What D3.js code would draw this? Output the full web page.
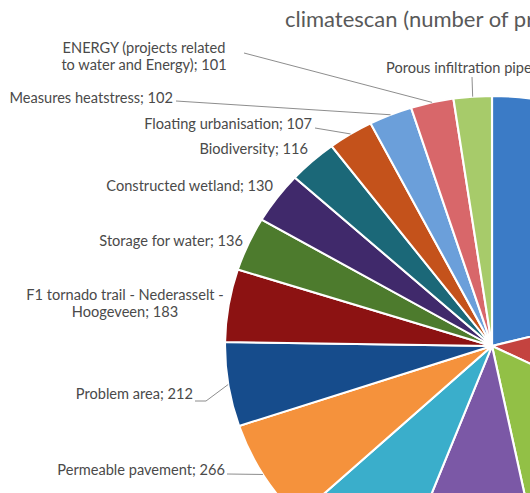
<!DOCTYPE html>
<html><head><meta charset="utf-8">
<script src="https://cdn.jsdelivr.net/npm/d3@7"></script>
<style>
html,body{margin:0;padding:0;background:#fff;overflow:hidden;}
svg{display:block;}
</style></head>
<body>
<svg id="chart" width="530" height="493"></svg>
<script>
// ---- data (clockwise from 12 o'clock) ----
const categories = [
  "Green roof", "Rain garden", "Swale", "Green facade", "Urban agriculture",
  "Permeable pavement", "Problem area", "F1 tornado trail - Nederasselt - Hoogeveen",
  "Storage for water", "Constructed wetland", "Biodiversity", "Floating urbanisation",
  "Measures heatstress", "ENERGY (projects related to water and Energy)", "Porous infiltration pipe"
];
const values = [818, 443, 563, 353, 280, 266, 212, 183, 136, 130, 116, 107, 102, 101, 90];
const colors = [
  "#3b7bc6", "#c4433f", "#92c046", "#7b58a6", "#3aaecb",
  "#f5923c", "#164c8c", "#8c1212", "#4d7b2d", "#40296b",
  "#1b6878", "#c4521b", "#6b9fda", "#d8676a", "#a7cb6a"
];
const title = "climatescan (number of projects)";

// ---- label layout (annotation placement only) ----
const labelLayout = [
  {name: categories[13], lines: ["ENERGY (projects related", "to water and Energy); " + values[13]], x: 144, y: 53, anchor: "middle", leader: [[244, 53]]},
  {name: categories[12], lines: ["Measures heatstress; " + values[12]], x: 173, y: 103, anchor: "end", leader: [[176, 101]]},
  {name: categories[11], lines: ["Floating urbanisation; " + values[11]], x: 312, y: 129, anchor: "end", leader: [[315, 128]]},
  {name: categories[10], lines: ["Biodiversity; " + values[10]], x: 308, y: 154, anchor: "end", leader: null},
  {name: categories[9], lines: ["Constructed wetland; " + values[9]], x: 273, y: 191, anchor: "end", leader: null},
  {name: categories[8], lines: ["Storage for water; " + values[8]], x: 243, y: 246, anchor: "end", leader: null},
  {name: categories[7], lines: ["F1 tornado trail - Nederasselt -", "Hoogeveen; " + values[7]], x: 125, y: 300, anchor: "middle", leader: null},
  {name: categories[6], lines: ["Problem area; " + values[6]], x: 193, y: 399, anchor: "end", leader: [[195, 401], [206, 401]]},
  {name: categories[5], lines: ["Permeable pavement; " + values[5]], x: 225, y: 475, anchor: "end", leader: [[227, 474]]},
  {name: categories[14], lines: ["Porous infiltration pipe; " + values[14]], x: 386, y: 73, anchor: "start", leader: [[472, 77]]}
];

const cx = 492, cy = 346, R = 250, sx = 1.068;
const svg = d3.select("#chart");
const fontFam = "Lato, 'Open Sans', sans-serif";

svg.append("text").attr("x", 285).attr("y", 27)
  .attr("font-family", fontFam).attr("font-size", 22).attr("fill", "#595959")
  .text(title);

const data = categories.map((c, i) => ({name: c, value: values[i], color: colors[i]}));
const pie = d3.pie().sort(null).value(d => d.value);
const arcs = pie(data);
const arc = d3.arc().innerRadius(0).outerRadius(R);

const g = svg.append("g").attr("transform", `translate(${cx},${cy}) scale(${sx},1)`);
g.selectAll("path").data(arcs).join("path")
  .attr("d", arc)
  .attr("fill", d => d.data.color)
  .attr("stroke", "#fff").attr("stroke-width", 2).attr("stroke-linejoin", "round");

// leader lines & labels
const byName = new Map(arcs.map(a => [a.data.name, a]));
const edgePoint = a => {
  const m = (a.startAngle + a.endAngle) / 2;
  return [cx + Math.sin(m) * R * sx, cy - Math.cos(m) * R];
};
const line = d3.line();
labelLayout.forEach(l => {
  const a = byName.get(l.name);
  if (l.leader) {
    const pts = l.leader.concat([edgePoint(a)]);
    svg.append("path").attr("d", line(pts)).attr("fill", "none")
      .attr("stroke", "#808080").attr("stroke-width", 0.9);
  }
  const t = svg.append("text").attr("x", l.x).attr("y", l.y)
    .attr("text-anchor", l.anchor).attr("font-family", fontFam)
    .attr("font-size", 14.6).attr("fill", "#4a4a4a");
  l.lines.forEach((s, i) => t.append("tspan").attr("x", l.x).attr("dy", i ? 16.5 : 0).text(s));
});
</script>
</body></html>
